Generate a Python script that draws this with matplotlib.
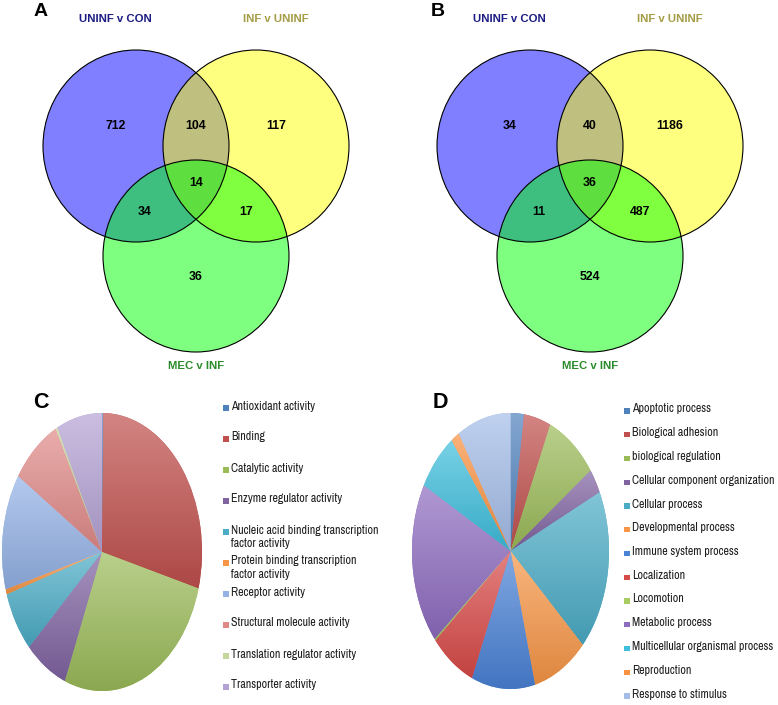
import numpy as np
import matplotlib
matplotlib.use("Agg")
import matplotlib.pyplot as plt
from matplotlib import font_manager as fm
from matplotlib.patches import Ellipse
from matplotlib.colors import to_rgb

# --- data -------------------------------------------------------------
venn_sets = ["UNINF v CON", "INF v UNINF", "MEC v INF"]
# region order: only1, 1&2, only2, all, 1&3, 2&3, only3
venn_a = [712, 104, 117, 14, 34, 17, 36]
venn_b = [34, 40, 1186, 36, 11, 487, 524]

mf_labels = ["Antioxidant activity", "Binding", "Catalytic activity",
             "Enzyme regulator activity",
             "Nucleic acid binding transcription\nfactor activity",
             "Protein binding transcription\nfactor activity",
             "Receptor activity", "Structural molecule activity",
             "Translation regulator activity", "Transporter activity"]
mf_values = [0.2, 29.2, 27.0, 7.0, 7.1, 0.6, 13.6, 8.2, 0.3, 7.4]
mf_colors = ["#4F81BD", "#C0504D", "#9BBB59", "#8064A2", "#4BACC6",
             "#F79646", "#94B2E6", "#E08A88", "#C3D69B", "#B4A2D4"]

bp_labels = ["Apoptotic process", "Biological adhesion", "biological regulation",
             "Cellular component organization", "Cellular process",
             "Developmental process", "Immune system process", "Localization",
             "Locomotion", "Metabolic process", "Multicellular organismal process",
             "Reproduction", "Response to stimulus"]
bp_values = [2.2, 4.4, 8.5, 2.9, 18.9, 9.1, 10.4, 7.4, 0.2, 18.9, 6.9, 1.4, 8.8]
bp_colors = ["#4F81BD", "#C0504D", "#9BBB59", "#8064A2", "#4BACC6", "#F79646",
             "#4A82D6", "#D84A48", "#A6CC62", "#8E6CC0", "#3EBEDC", "#FA9140",
             "#A4BDE8"]

# legend font: a narrow face if there is one, else plain Liberation Sans
leg_font = dict(family="Liberation Sans", fontsize=7.3)
for f in fm.fontManager.ttflist:
    if "Narrow" in f.name:
        leg_font = dict(family=f.name, fontsize=8.6)
        break
else:
    for f in fm.fontManager.ttflist:
        if "Condensed" in f.name or f.stretch in ("condensed", 300):
            leg_font = dict(family=f.name, fontstretch="condensed", fontsize=8.2)
            break

W, H = 778, 705
fig = plt.figure(figsize=(W / 100, H / 100), dpi=100)
ov = fig.add_axes([0, 0, 1, 1])
ov.set_xlim(0, W)
ov.set_ylim(H, 0)
ov.axis("off")

bold = dict(family="Liberation Sans", weight="bold")


def draw_venn(cx, counts):
    # cx: x of the bottom circle centre, everything else relative to it
    fills = ["#0000ff", "#ffff00", "#00ff00"]
    centres = [(cx - 60, 146), (cx + 60, 146), (cx, 256)]
    for (x, y), c in zip(centres, fills):
        ov.add_patch(Ellipse((x, y), 186, 192, facecolor=c, alpha=0.5,
                             edgecolor="none", zorder=1))
    for (x, y) in centres:
        ov.add_patch(Ellipse((x, y), 186, 192, facecolor="none",
                             edgecolor="black", lw=0.8, zorder=2))
    offs = [(-80, 126), (0, 126), (80, 126), (0, 183), (-51, 212),
            (50, 212), (0, 277)]
    for (dx, y), n in zip(offs, counts):
        ov.text(cx + dx, y, str(n), ha="center", va="center",
                fontsize=8.8, zorder=3, **bold)
    ov.text(cx - 81, 19, venn_sets[0], color="#1c1c84", ha="center",
            va="center", fontsize=8.2, **bold)
    ov.text(cx + 80, 19, venn_sets[1], color="#a49c44", ha="center",
            va="center", fontsize=8.2, **bold)
    ov.text(cx, 366, venn_sets[2], color="#2a8c2a", ha="center",
            va="center", fontsize=8.2, **bold)


def blend(c, t, target=(1, 1, 1)):
    c = np.array(to_rgb(c))
    return c + (np.array(target) - c) * t


def gradient_pie(rect, values, colors):
    ax = fig.add_axes(rect)
    wedges, _ = ax.pie(values, colors=colors, startangle=90,
                       counterclock=False, wedgeprops=dict(linewidth=0))
    for w, c in zip(wedges, colors):
        bb = w.get_path().get_extents()
        top = blend(c, 0.3)
        bot = blend(c, 0.1, (0, 0, 0))
        t = np.linspace(0, 1, 64)[:, None, None]
        img = top[None, None, :] * (1 - t) + bot[None, None, :] * t
        img = np.repeat(img, 2, axis=1)
        im = ax.imshow(img, extent=(bb.x0, bb.x1, bb.y0, bb.y1),
                       origin="upper", aspect="auto", interpolation="bilinear",
                       zorder=w.get_zorder() + 0.1)
        im.set_clip_path(w)
    ax.set_aspect("auto")
    ax.set_xlim(-1.0, 1.0)
    ax.set_ylim(-1.0, 1.0)
    ax.axis("off")
    return ax


def draw_legend(x, y0, step, labels, colors):
    for i, (lab, c) in enumerate(zip(labels, colors)):
        y = y0 + step * i
        ov.scatter([x], [y], marker="s", s=14, color=c, edgecolors="none")
        ov.text(x + 5, y - 7.5, lab, ha="left", va="top", color="#1e1e1e",
                linespacing=1.3, **leg_font)


draw_venn(196, venn_a)
draw_venn(590, venn_b)

# pies: ellipse extents in pixels -> figure fractions
gradient_pie([2 / W, 1 - 691 / H, 200 / W, 278 / H], mf_values, mf_colors)
gradient_pie([412 / W, 1 - 689 / H, 197 / W, 276 / H], bp_values, bp_colors)

draw_legend(226, 408, 31.0, mf_labels, mf_colors)
draw_legend(627, 411, 23.75, bp_labels, bp_colors)

for lab, x, y, fs in [("A", 41, 12, 14), ("B", 438, 12, 14),
                      ("C", 41, 402, 15.5), ("D", 440, 402, 15.5)]:
    ov.text(x, y, lab, ha="center", va="center", fontsize=fs, **bold)

fig.savefig("out.png", dpi=100)
